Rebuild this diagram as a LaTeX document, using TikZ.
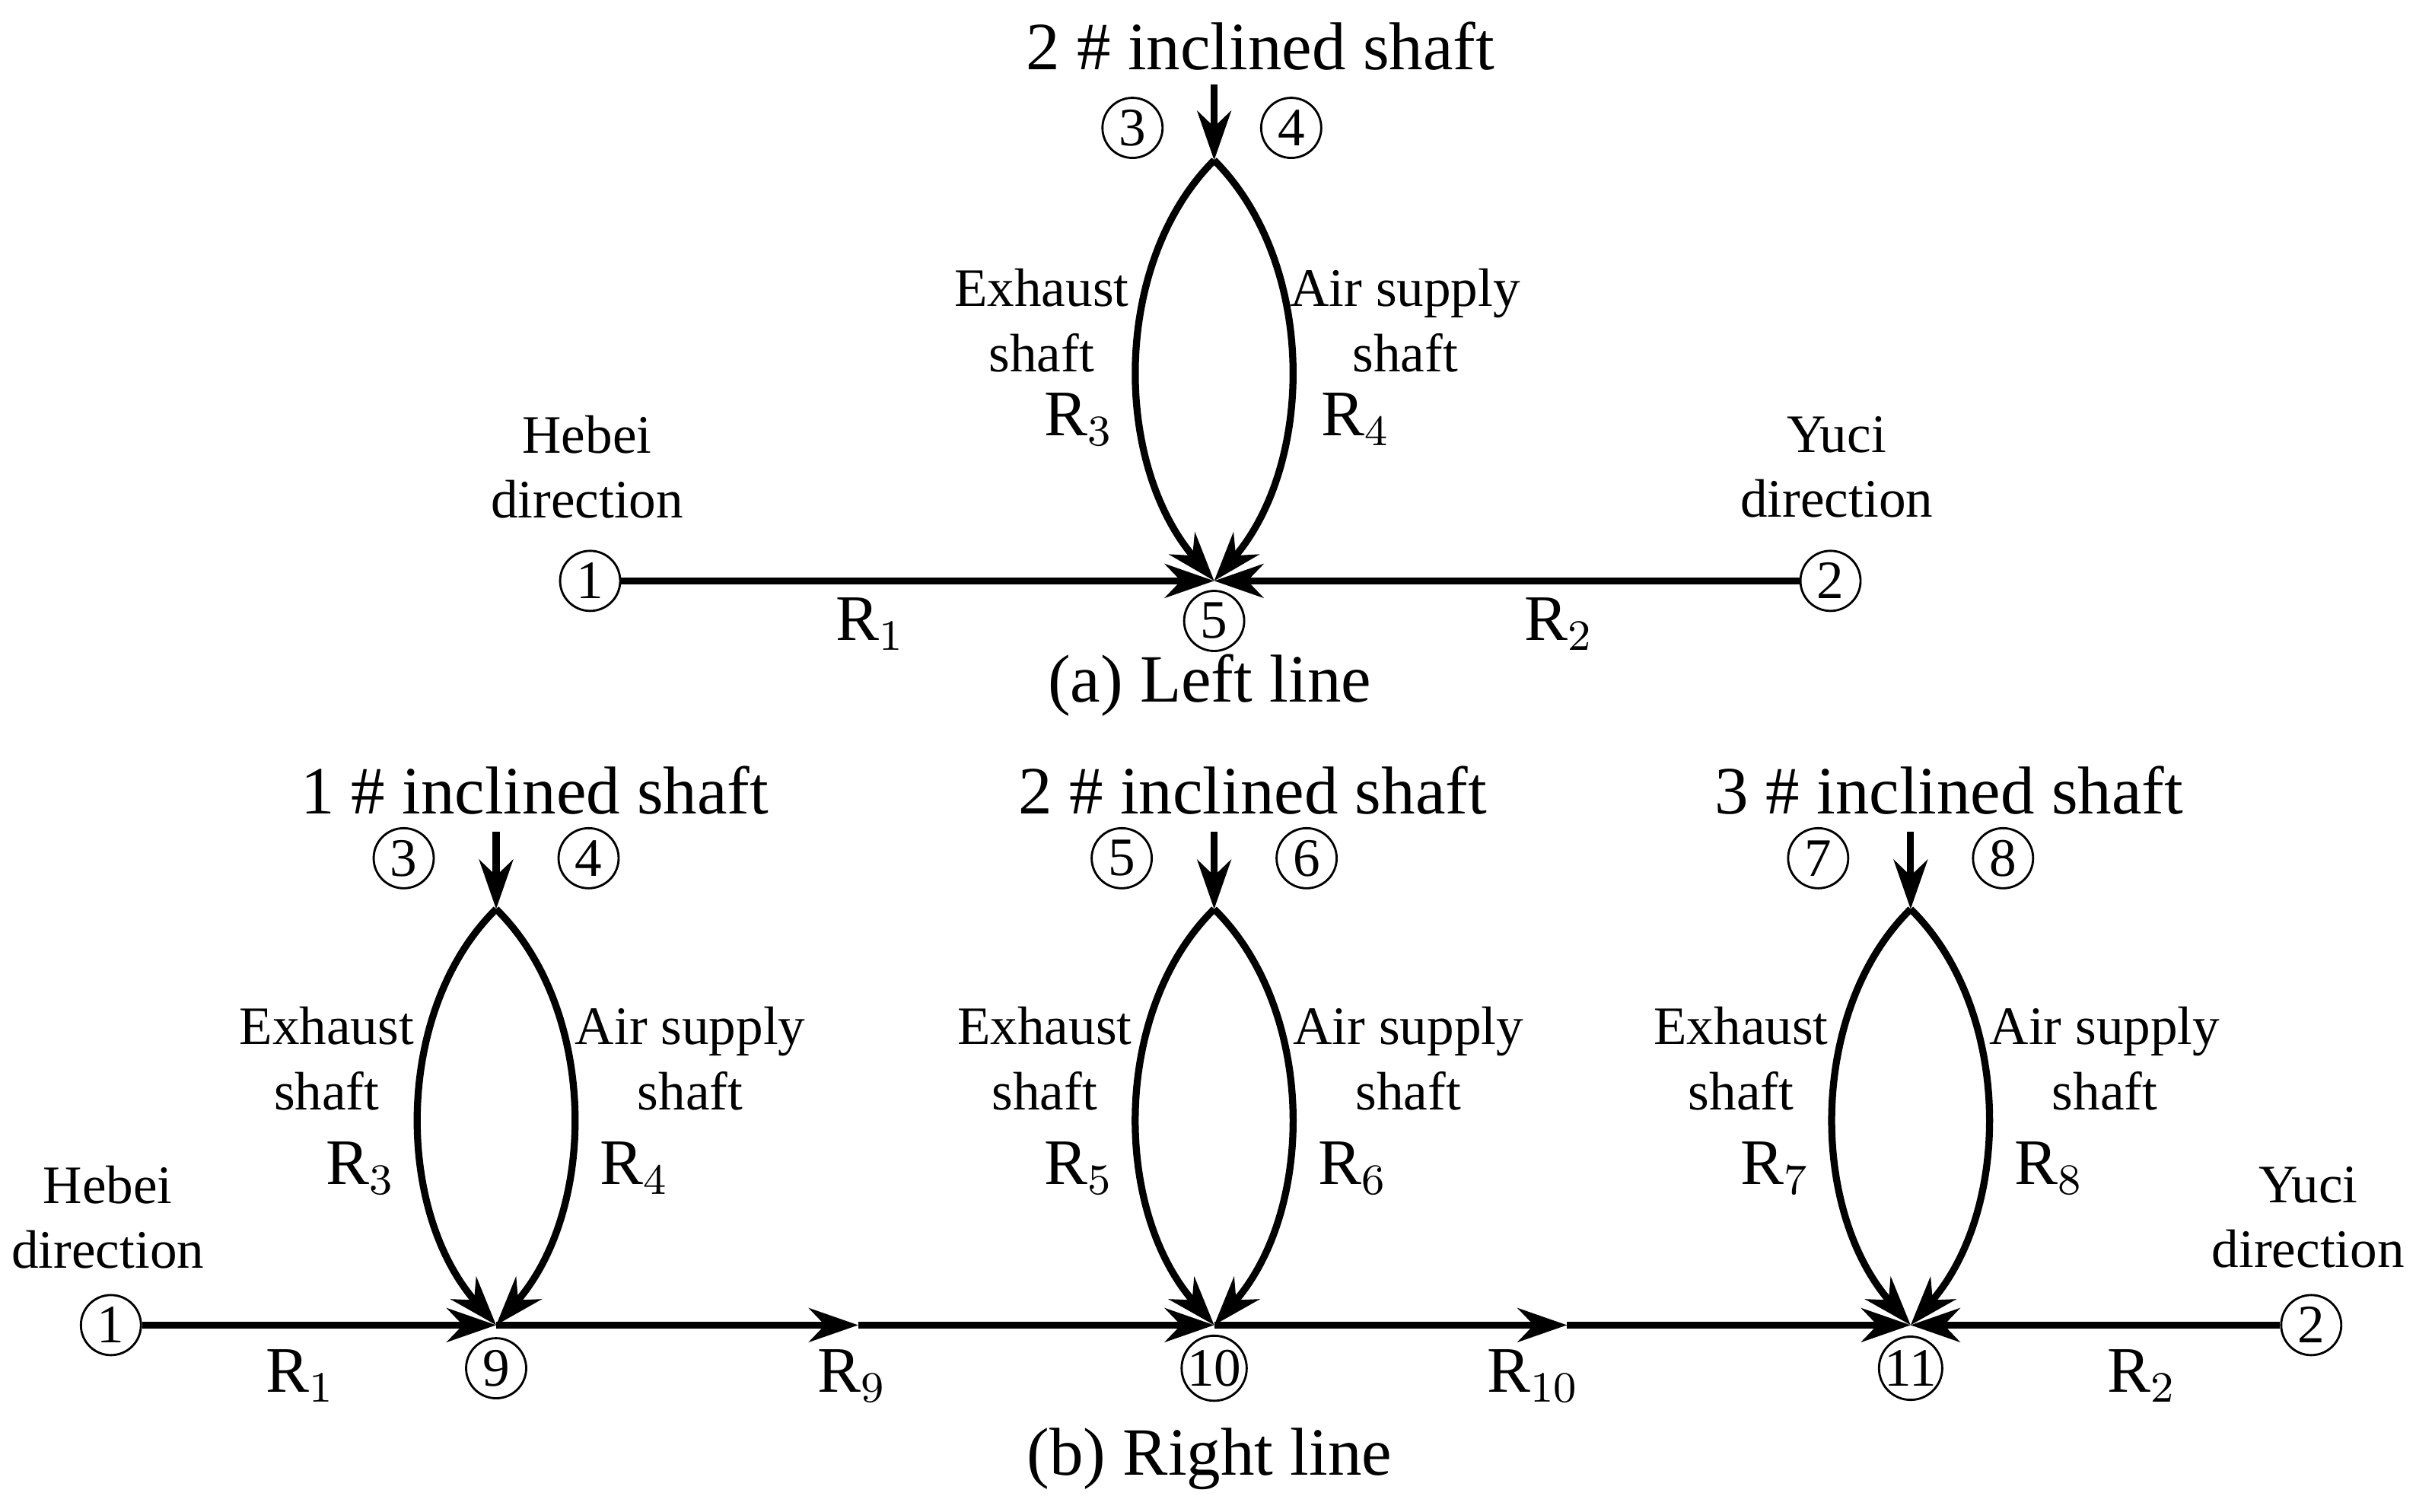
\documentclass[tikz,border=0pt]{standalone}
\usepackage{fontspec}
\setmainfont{Liberation Serif}
\usetikzlibrary{arrows.meta}

\begin{document}
\begin{tikzpicture}[x=0.1mm, y=-0.1mm, >={Stealth[length=3.2mm,width=2.2mm]}]
    \tikzset{
        num/.style = {draw, thin, circle, minimum size=3.9mm, inner sep=0pt, font=\fontsize{10}{10}\selectfont},
        line/.style = {line width=1.3pt},
        title/.style = {font=\fontsize{12.5}{13}\selectfont},
        lbl/.style = {font=\fontsize{10}{12}\selectfont, align=center},
        res/.style = {font=\fontsize{12}{12}\selectfont}
    }
    \useasboundingbox (0,0) rectangle (1568,981);

    % (a) left line
    \node[num] (a1) at (383,377) {1};
    \node[num] (a2) at (1188,377) {2};
    \coordinate (a5) at (788,377);
    \node[num] (a5l) at (788,403) {5};
    \coordinate (at) at (788,104);
    \coordinate (ain) at (788,55);
    \draw[line,->] (a1) -- (a5);
    \draw[line,->] (a2) -- (a5);
    \draw[line,->] (ain) -- (at);
    \draw[line,->] (at) .. controls (722,170) and (722,300) .. (a5);
    \draw[line,->] (at) .. controls (854,170) and (854,300) .. (a5);
    \node[title] (att) at (818,30) {2 \# inclined shaft};
    \node[num] (a3) at (735,83) {3};
    \node[num] (a4) at (838,83) {4};
    \node[lbl] (aex) at (676,208) {Exhaust\\shaft};
    \node[lbl] (aair) at (912,208) {Air supply\\shaft};
    \node[res] (ar3) at (700,272) {R$_3$};
    \node[res] (ar4) at (880,272) {R$_4$};
    \node[lbl] (ahb) at (381,303) {Hebei\\direction};
    \node[lbl] (ayc) at (1192,303) {Yuci\\direction};
    \node[res] (ar1) at (565,405) {R$_1$};
    \node[res] (ar2) at (1012,405) {R$_2$};
    \node[title] (acap) at (785,445) {(a) Left line};

    % (b) right line
    \node[num] (b1) at (72,860) {1};
    \node[num] (b2) at (1500,860) {2};
    \coordinate (m9) at (557,860);
    \coordinate (m10) at (1017,860);
    \foreach \x/\j/\a/\b/\e/\s/\n in {322/9/3/4/3/1/1, 788/10/5/6/5/2/2, 1240/11/7/8/7/3/3} {
        \coordinate (j\j) at (\x,860);
        \coordinate (t\j) at (\x,590);
        \coordinate (i\j) at (\x,540);
        \node[num] (l\j) at (\x,888) {\j};
        \draw[line,->] (i\j) -- (t\j);
        \draw[line,->] (t\j) .. controls (\x-66,655) and (\x-66,785) .. (j\j);
        \draw[line,->] (t\j) .. controls (\x+66,655) and (\x+66,785) .. (j\j);
        \node[title] (tt\j) at (\x+25,513) {\s\ \# inclined shaft};
        \node[num] (c\a) at (\x-60,557) {\a};
        \node[num] (c\b) at (\x+60,557) {\b};
        \node[lbl] (ex\j) at (\x-110,687) {Exhaust\\shaft};
        \node[lbl] (air\j) at (\x+126,687) {Air supply\\shaft};
        \pgfmathtruncatemacro{\f}{\e+1}
        \node[res] (re\j) at (\x-88,758) {R$_{\e}$};
        \node[res] (rf\j) at (\x+90,758) {R$_{\f}$};
    }
    \draw[line,->] (b1) -- (j9);
    \draw[line,->] (j9) -- (m9);
    \draw[line,->] (m9) -- (j10);
    \draw[line,->] (j10) -- (m10);
    \draw[line,->] (m10) -- (j11);
    \draw[line,->] (b2) -- (j11);
    \node[lbl] (bhb) at (70,790) {Hebei\\direction};
    \node[lbl] (byc) at (1498,790) {Yuci\\direction};
    \node[res] (br1) at (195,893) {R$_1$};
    \node[res] (br9) at (553,893) {R$_9$};
    \node[res] (br10) at (995,893) {R$_{10}$};
    \node[res] (br2) at (1390,893) {R$_2$};
    \node[title] (bcap) at (785,947) {(b) Right line};
\end{tikzpicture}
\end{document}
